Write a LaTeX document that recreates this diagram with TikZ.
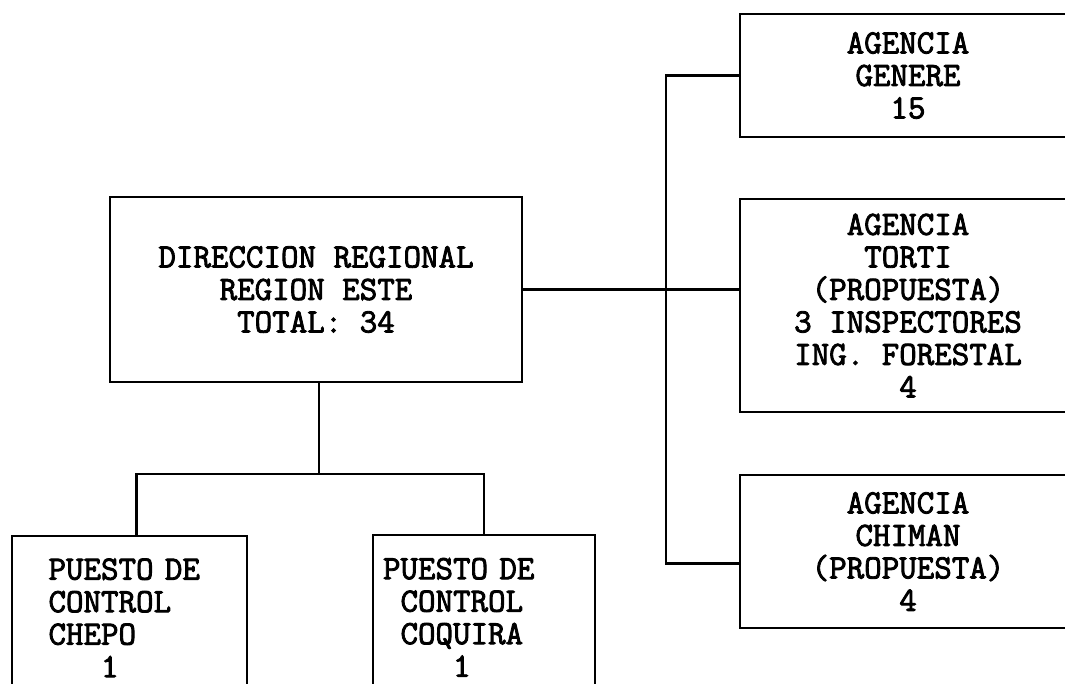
\documentclass[tikz,border=0pt]{standalone}
\usepackage{fontspec}
\setmonofont{Latin Modern Mono}[AutoFakeBold = 2.5]
\usepackage{tikz}

\begin{document}
\begin{tikzpicture}[x = 1pt, y = -1pt,
	box/.style = {draw, line width = 2.2pt, inner sep = 0pt, align = center,
		font = \ttfamily\bfseries\fontsize{34}{32.5}\selectfont},
	link/.style = {line width = 2.2pt}]

	% Page, boxes run off the right and bottom edges
	
	\useasboundingbox (0, 0) rectangle (1065, 683);
	\clip (0, 0) rectangle (1065, 683);
	
	% Regional office
	
	\node [box, minimum width = 412pt, minimum height = 185pt] (direccion) at (316, 289.5) {DIRECCION REGIONAL\\REGION ESTE\\TOTAL: 34};
	
	% Agencies
	
	\node [box, minimum width = 336pt, minimum height = 123pt] (genere) at (908, 75.5) {AGENCIA\\GENERE\\15};
	\node [box, minimum width = 336pt, minimum height = 213pt] (torti) at (908, 305.5) {AGENCIA\\TORTI\\(PROPUESTA)\\3 INSPECTORES\\ING. FORESTAL\\4};
	\node [box, minimum width = 336pt, minimum height = 153pt] (chiman) at (908, 551.5) {AGENCIA\\CHIMAN\\(PROPUESTA)\\4};
	
	% Control posts
	
	\node [box, align = left, text width = 162pt, minimum width = 235pt, minimum height = 164pt] (chepo) at (129.5, 618) {PUESTO DE\\CONTROL\\CHEPO\\\phantom{000}1};
	\node [box, align = left, text width = 202pt, minimum width = 222pt, minimum height = 165pt] (coquira) at (484, 617.5) {PUESTO DE\\\phantom{0}CONTROL\\\phantom{0}COQUIRA\\\phantom{0000}1};
	
	% Connectors
	
	\draw [link] (direccion.east) -- (direccion.east -| torti.west);
	\draw [link] (genere.west) -| ++ (-73, 488) coordinate (busend) -- (busend -| chiman.west);
	
	\draw [link] ([xshift = 3pt] direccion.south) -- ++ (0, 91) coordinate (split);
	\draw [link] ([xshift = 7pt] chepo.north) |- (split) -| (coquira.north);
	
\end{tikzpicture}
\end{document}
